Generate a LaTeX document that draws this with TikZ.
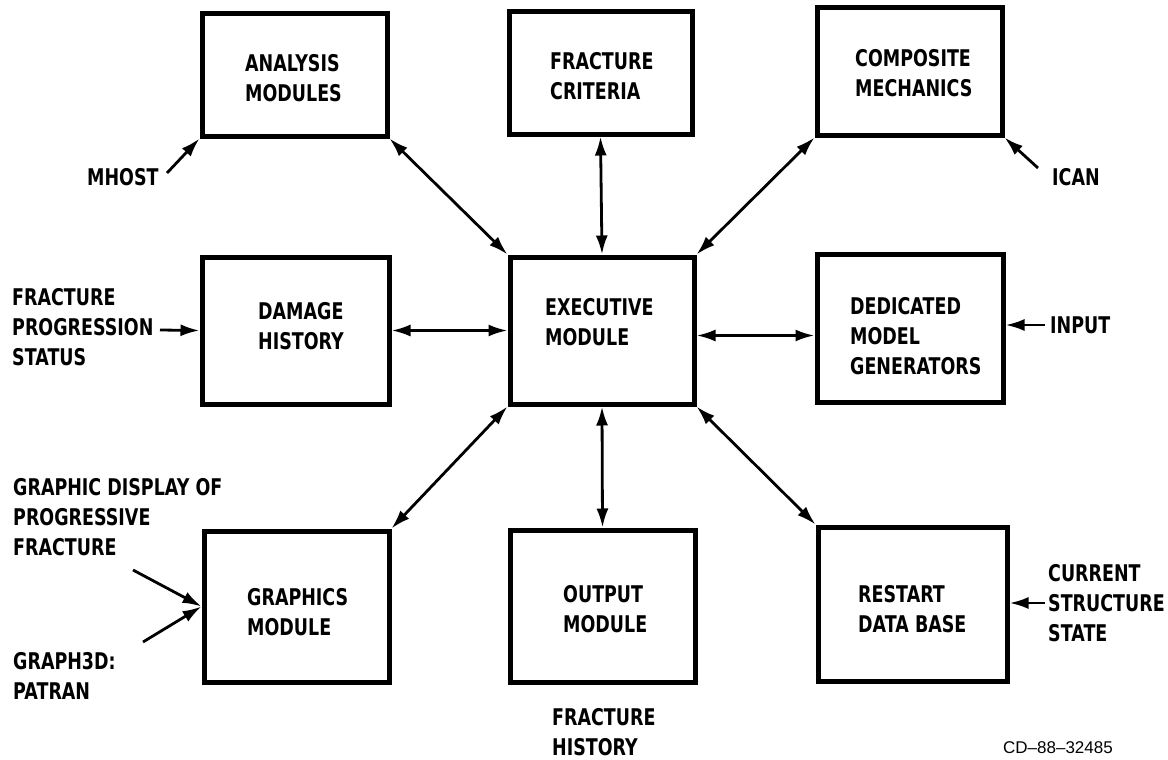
\documentclass[tikz,border=0pt]{standalone}
\usepackage{fontspec}
\newfontfamily\lblfont[FakeStretch=0.76]{DejaVu Sans}
\newfontfamily\cdfont{Liberation Sans}
\usetikzlibrary{arrows.meta}
\begin{document}
\begin{tikzpicture}[x=1pt,y=-1pt,
  box/.style={draw, line width=5pt, inner sep=0pt},
  lbl/.style={anchor=west, align=left, inner sep=0pt, font=\lblfont\bfseries\fontsize{23}{30}\selectfont},
  tip/.tip={Latex[length=19pt,width=12pt]},
  link/.style={line width=2.8pt, tip-tip},
  feed/.style={line width=2.8pt, -tip}
]
\useasboundingbox (0,0) rectangle (1168,760);
\fill[white] (0,0) rectangle (1168,760);
% boxes
\node[box, minimum width=185pt, minimum height=122pt] (an) at (294.5,75) {};
\node[box, minimum width=183pt, minimum height=122pt] (fc) at (600.5,73) {};
\node[box, minimum width=185pt, minimum height=127pt] (cm) at (909.5,71.5) {};
\node[box, minimum width=187pt, minimum height=147pt] (dh) at (295.5,330.5) {};
\node[box, minimum width=184pt, minimum height=147pt] (ex) at (602,330.5) {};
\node[box, minimum width=186pt, minimum height=148pt] (dm) at (910,328) {};
\node[box, minimum width=185pt, minimum height=151pt] (gm) at (296.5,606.5) {};
\node[box, minimum width=185pt, minimum height=152pt] (om) at (602.5,606) {};
\node[box, minimum width=189pt, minimum height=154pt] (rd) at (912.5,604) {};
% box texts
\node[lbl] (tan) at (245,78) {ANALYSIS\\MODULES};
\node[lbl] (tfc) at (550,76) {FRACTURE\\CRITERIA};
\node[lbl] (tcm) at (855,73) {COMPOSITE\\MECHANICS};
\node[lbl] (tdh) at (258,326) {DAMAGE\\HISTORY};
\node[lbl] (tex) at (545,322) {EXECUTIVE\\MODULE};
\node[lbl] (tdm) at (850,336) {DEDICATED\\MODEL\\GENERATORS};
\node[lbl] (tgm) at (247,612) {GRAPHICS\\MODULE};
\node[lbl] (tom) at (563,609) {OUTPUT\\MODULE};
\node[lbl] (trd) at (858,609) {RESTART\\DATA BASE};
% outside texts
\node[lbl] (mhost) at (87,177) {MHOST};
\node[lbl] (ican) at (1052,177) {ICAN};
\node[lbl] (fps) at (12,327) {FRACTURE\\PROGRESSION\\STATUS};
\node[lbl] (inp) at (1050,325) {INPUT};
\node[lbl] (gdp) at (13,517) {GRAPHIC DISPLAY OF\\PROGRESSIVE\\FRACTURE};
\node[lbl] (g3d) at (13,676) {GRAPH3D:\\PATRAN};
\node[lbl] (fh) at (552,732) {FRACTURE\\HISTORY};
\node[lbl] (css) at (1048,603) {CURRENT\\STRUCTURE\\STATE};
\node[anchor=east, inner sep=0pt, font=\cdfont\fontsize{17}{20}\selectfont] (cd) at (1113,748) {CD–88–32485};
% connectors to executive
\draw[link] (an.south east) -- (ex.north west);
\draw[link] (fc.south) -- (ex.north);
\draw[link] (cm.south west) -- (ex.north east);
\draw[link] (dh.east) -- (ex.west);
\draw[link] ([yshift=-5pt]ex.east) -- ([yshift=-5pt]ex.east -| dm.west);
\draw[link] (ex.south west) -- (gm.north east);
\draw[link] (ex.south) -- (om.north);
\draw[link] (ex.south east) -- (rd.north west);
% feeds
\coordinate (cmh) at (167,173);
\coordinate (cic) at (1038,168);
\coordinate (cfp) at (160,330);
\coordinate (cin) at (1045,325);
\coordinate (cgd) at (133,570);
\coordinate (cg3) at (143,642);
\coordinate (ccs) at (1045,603);
\draw[feed] (cmh) -- (an.south west);
\draw[feed] (cic) -- (cm.south east);
\draw[feed] (cfp) -- (dh.west);
\draw[feed] (cin) -- (cin -| dm.east);
\draw[feed] (cgd) -- (gm.west);
\draw[feed] (cg3) -- (gm.west);
\draw[feed] (ccs) -- (ccs -| rd.east);
\end{tikzpicture}
\end{document}
